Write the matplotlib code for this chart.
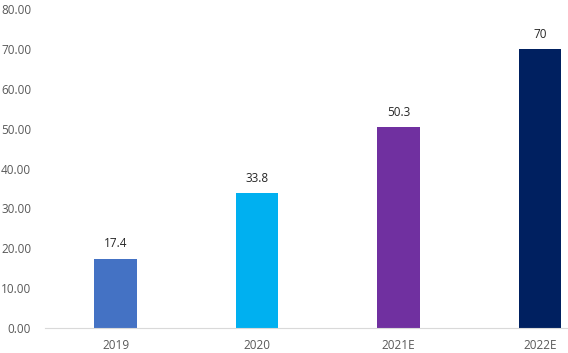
import matplotlib.pyplot as plt

# Data
years = ['2019', '2020', '2021E', '2022E']
values = [17.4, 33.8, 50.3, 70]
labels = ['17.4', '33.8', '50.3', '70']
colors = ['#4472C4', '#00B0F0', '#7030A0', '#002060']

plt.rcParams['font.family'] = ['Open Sans', 'DejaVu Sans']

fig = plt.figure(figsize=(5.68, 3.53), dpi=100)
ax = fig.add_axes([45 / 568, 25 / 353, 1 - 45 / 568, 319 / 353])

x = range(len(years))
bars = ax.bar(x, values, width=0.30, color=colors)

# Value labels above bars
for bar, lab in zip(bars, labels):
    ax.annotate(lab, (bar.get_x() + bar.get_width() / 2, bar.get_height()),
                xytext=(0, 6), textcoords='offset points',
                ha='center', va='bottom', fontsize=8.5, color='#262626')

ax.set_xlim(-0.5, 3.2)
ax.set_ylim(0, 80)
ax.set_yticks(range(0, 81, 10))
ax.set_yticklabels([f'{v:.2f}' for v in range(0, 81, 10)])
ax.set_xticks(list(x))
ax.set_xticklabels(years)

for s in ['top', 'right', 'left']:
    ax.spines[s].set_visible(False)
ax.spines['bottom'].set_color('#D9D9D9')
ax.tick_params(axis='both', length=0, labelsize=8.5, labelcolor='#595959')
ax.tick_params(axis='y', pad=10)
ax.tick_params(axis='x', pad=8)

fig.savefig('out.png', dpi=100)
